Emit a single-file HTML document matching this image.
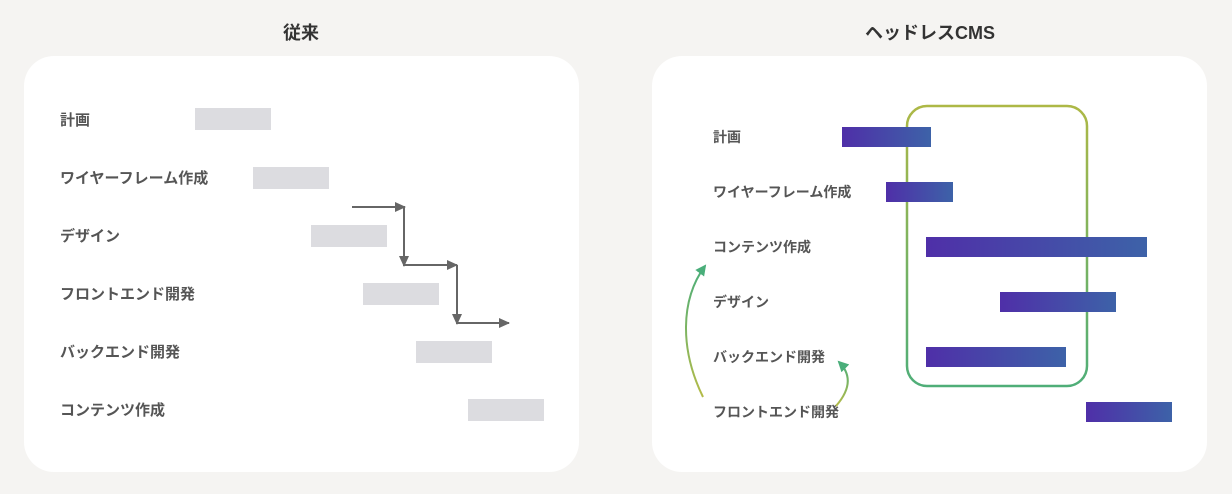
<!DOCTYPE html>
<html><head><meta charset="utf-8"><style>
html,body{margin:0;padding:0;background:#f5f4f2;width:1232px;height:494px;overflow:hidden;font-family:"Liberation Sans","Noto Sans CJK JP",sans-serif}
</style></head><body>
<svg width="1232" height="494" xmlns="http://www.w3.org/2000/svg" style="position:absolute;left:0;top:0">
<defs>
<linearGradient id="bar" x1="0" x2="1" y1="0" y2="0"><stop offset="0" stop-color="#4f2fa8"/><stop offset="1" stop-color="#3d62a8"/></linearGradient>
<linearGradient id="box" x1="0" x2="0" y1="0" y2="1"><stop offset="0" stop-color="#adb846"/><stop offset="1" stop-color="#4fae78"/></linearGradient>
<linearGradient id="arc" x1="0" x2="0" y1="1" y2="0"><stop offset="0" stop-color="#b4bb48"/><stop offset="1" stop-color="#4aae7a"/></linearGradient>
<marker id="ah" markerWidth="11" markerHeight="10" refX="10" refY="5" orient="auto" markerUnits="userSpaceOnUse"><path d="M0,0 L11,5 L0,10Z" fill="#666"/></marker>
<marker id="ag" markerWidth="11" markerHeight="11" refX="9" refY="5.5" orient="auto" markerUnits="userSpaceOnUse"><path d="M0,0 L11,5.5 L0,11Z" fill="#4aae7a"/></marker>
</defs>
<g font-weight="bold" font-size="18" fill="#333" text-anchor="middle" font-family="Liberation Sans, Noto Sans CJK JP, sans-serif">
<text x="301" y="39">従来</text><text x="930" y="39">ヘッドレスCMS</text></g>
<rect x="24" y="56" width="555" height="416" rx="30" fill="#fff"/>
<rect x="652" y="56" width="555" height="416" rx="30" fill="#fff"/>
<g font-weight="bold" font-size="15" fill="#555" font-family="Liberation Sans, Noto Sans CJK JP, sans-serif">
<text x="60" y="125">計画</text><text x="60" y="183">ワイヤーフレーム作成</text><text x="60" y="241">デザイン</text>
<text x="60" y="299">フロントエンド開発</text><text x="60" y="357">バックエンド開発</text><text x="60" y="415">コンテンツ作成</text>
</g>
<g fill="#dcdce0">
<rect x="195" y="108" width="76" height="22"/><rect x="253" y="167" width="76" height="22"/><rect x="311" y="225" width="76" height="22"/>
<rect x="363" y="283" width="76" height="22"/><rect x="416" y="341" width="76" height="22"/><rect x="468" y="399" width="76" height="22"/>
</g>
<g stroke="#666" stroke-width="2" fill="none">
<line x1="352" y1="207" x2="405" y2="207" marker-end="url(#ah)"/>
<line x1="404" y1="207" x2="404" y2="266" marker-end="url(#ah)"/>
<line x1="404" y1="265" x2="457" y2="265" marker-end="url(#ah)"/>
<line x1="457" y1="265" x2="457" y2="324" marker-end="url(#ah)"/>
<line x1="457" y1="323" x2="509" y2="323" marker-end="url(#ah)"/>
</g>
<rect x="907" y="106" width="180" height="280" rx="20" fill="none" stroke="url(#box)" stroke-width="2.5"/>
<g fill="url(#bar)">
<rect x="842" y="127" width="89" height="20"/><rect x="886" y="182" width="67" height="20"/><rect x="926" y="237" width="221" height="20"/>
<rect x="1000" y="292" width="116" height="20"/><rect x="926" y="347" width="140" height="20"/><rect x="1086" y="402" width="86" height="20"/>
</g>
<g font-weight="bold" font-size="14" fill="#555" font-family="Liberation Sans, Noto Sans CJK JP, sans-serif">
<text x="713" y="142">計画</text><text x="713" y="197">ワイヤーフレーム作成</text><text x="713" y="252">コンテンツ作成</text>
<text x="713" y="307">デザイン</text><text x="713" y="362">バックエンド開発</text><text x="713" y="417">フロントエンド開発</text>
</g>
<path d="M703,397 C680,350 680,300 705,266" stroke="url(#arc)" stroke-width="2" fill="none" marker-end="url(#ag)"/>
<path d="M836,406 C850,390 852,375 839,362" stroke="url(#arc)" stroke-width="2" fill="none" marker-end="url(#ag)"/>
</svg>
</body></html>
